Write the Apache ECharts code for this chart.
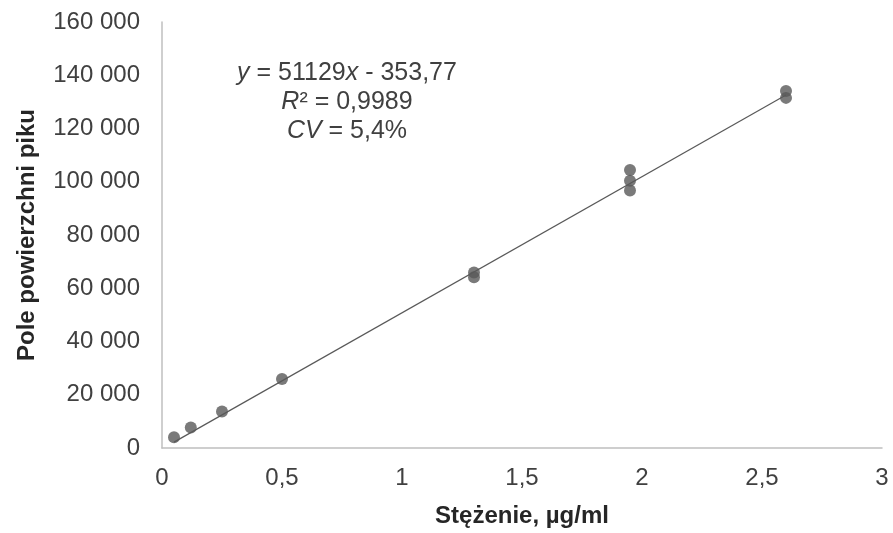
<!DOCTYPE html>
<html>
<head>
<meta charset="utf-8">
<script src="https://cdn.jsdelivr.net/npm/echarts@6/dist/echarts.min.js"></script>
<style>html,body{margin:0;padding:0;background:#fff}#c{width:893px;height:533px}</style>
</head>
<body>
<div id="c"></div>
<script>
// Data
const concentrations = [0.05, 0.12, 0.25, 0.5, 1.3, 1.3, 1.95, 1.95, 1.95, 2.6, 2.6];
const peakAreas = [4000, 7700, 13700, 25900, 65900, 64100, 104400, 100400, 96700, 134100, 131500];
const trendX = [0.05, 2.6];
const trendY = [2203, 132582];
const xTicks = [0, 0.5, 1, 1.5, 2, 2.5, 3];
const yTicks = [0, 20000, 40000, 60000, 80000, 100000, 120000, 140000, 160000];
const xTitle = 'Stężenie, µg/ml';
const yTitle = 'Pole powierzchni piku';
const eqLines = ['{i|y} = 51129{i|x} - 353,77', '{i|R}² = 0,9989', '{i|CV} = 5,4%'];

const chart = echarts.init(document.getElementById('c'), null, {renderer: 'canvas'});
const font = 'Liberation Sans, Arial, sans-serif';
const fmtY = v => String(v).replace(/\B(?=(\d{3})+(?!\d))/g, ' ');
const fmtX = v => String(v).replace('.', ',');
const lineYs = [73, 102, 131];

chart.setOption({
  animation: false,
  backgroundColor: '#fff',
  grid: {left: 162, right: 11, top: 22, bottom: 80, containLabel: false},
  xAxis: {
    type: 'value', min: xTicks[0], max: xTicks[xTicks.length - 1], interval: 0.5,
    name: xTitle, nameLocation: 'middle', nameGap: 56,
    nameTextStyle: {fontFamily: font, fontSize: 24, fontWeight: 'bold', color: '#262626'},
    axisLine: {show: true, lineStyle: {color: '#bfbfbf', width: 1.5}},
    axisTick: {show: false},
    splitLine: {show: false},
    axisLabel: {formatter: fmtX, fontFamily: font, fontSize: 24, color: '#404040', margin: 18}
  },
  yAxis: {
    type: 'value', min: yTicks[0], max: yTicks[yTicks.length - 1], interval: 20000,
    name: yTitle, nameLocation: 'middle', nameGap: 123, nameRotate: 90,
    nameTextStyle: {fontFamily: font, fontSize: 24, fontWeight: 'bold', color: '#262626'},
    axisLine: {show: true, lineStyle: {color: '#bfbfbf', width: 1.5}},
    axisTick: {show: false},
    splitLine: {show: false},
    axisLabel: {formatter: fmtY, fontFamily: font, fontSize: 24, color: '#404040', margin: 22}
  },
  series: [
    {
      type: 'line',
      data: trendX.map((x, i) => [x, trendY[i]]),
      symbol: 'none',
      lineStyle: {color: '#595959', width: 1.2},
      z: 2
    },
    {
      type: 'scatter',
      data: concentrations.map((x, i) => [x, peakAreas[i]]),
      symbol: 'circle', symbolSize: 12,
      itemStyle: {color: '#595959'},
      z: 3
    }
  ],
  graphic: eqLines.map((t, k) => ({
    type: 'text', x: 347, y: lineYs[k],
    style: {
      text: t, align: 'center', verticalAlign: 'middle', font: '25px ' + font, fill: '#404040',
      rich: {i: {fontStyle: 'italic', fontSize: 25, fontFamily: font, fill: '#404040'}}
    }
  }))
});
</script>
</body>
</html>
